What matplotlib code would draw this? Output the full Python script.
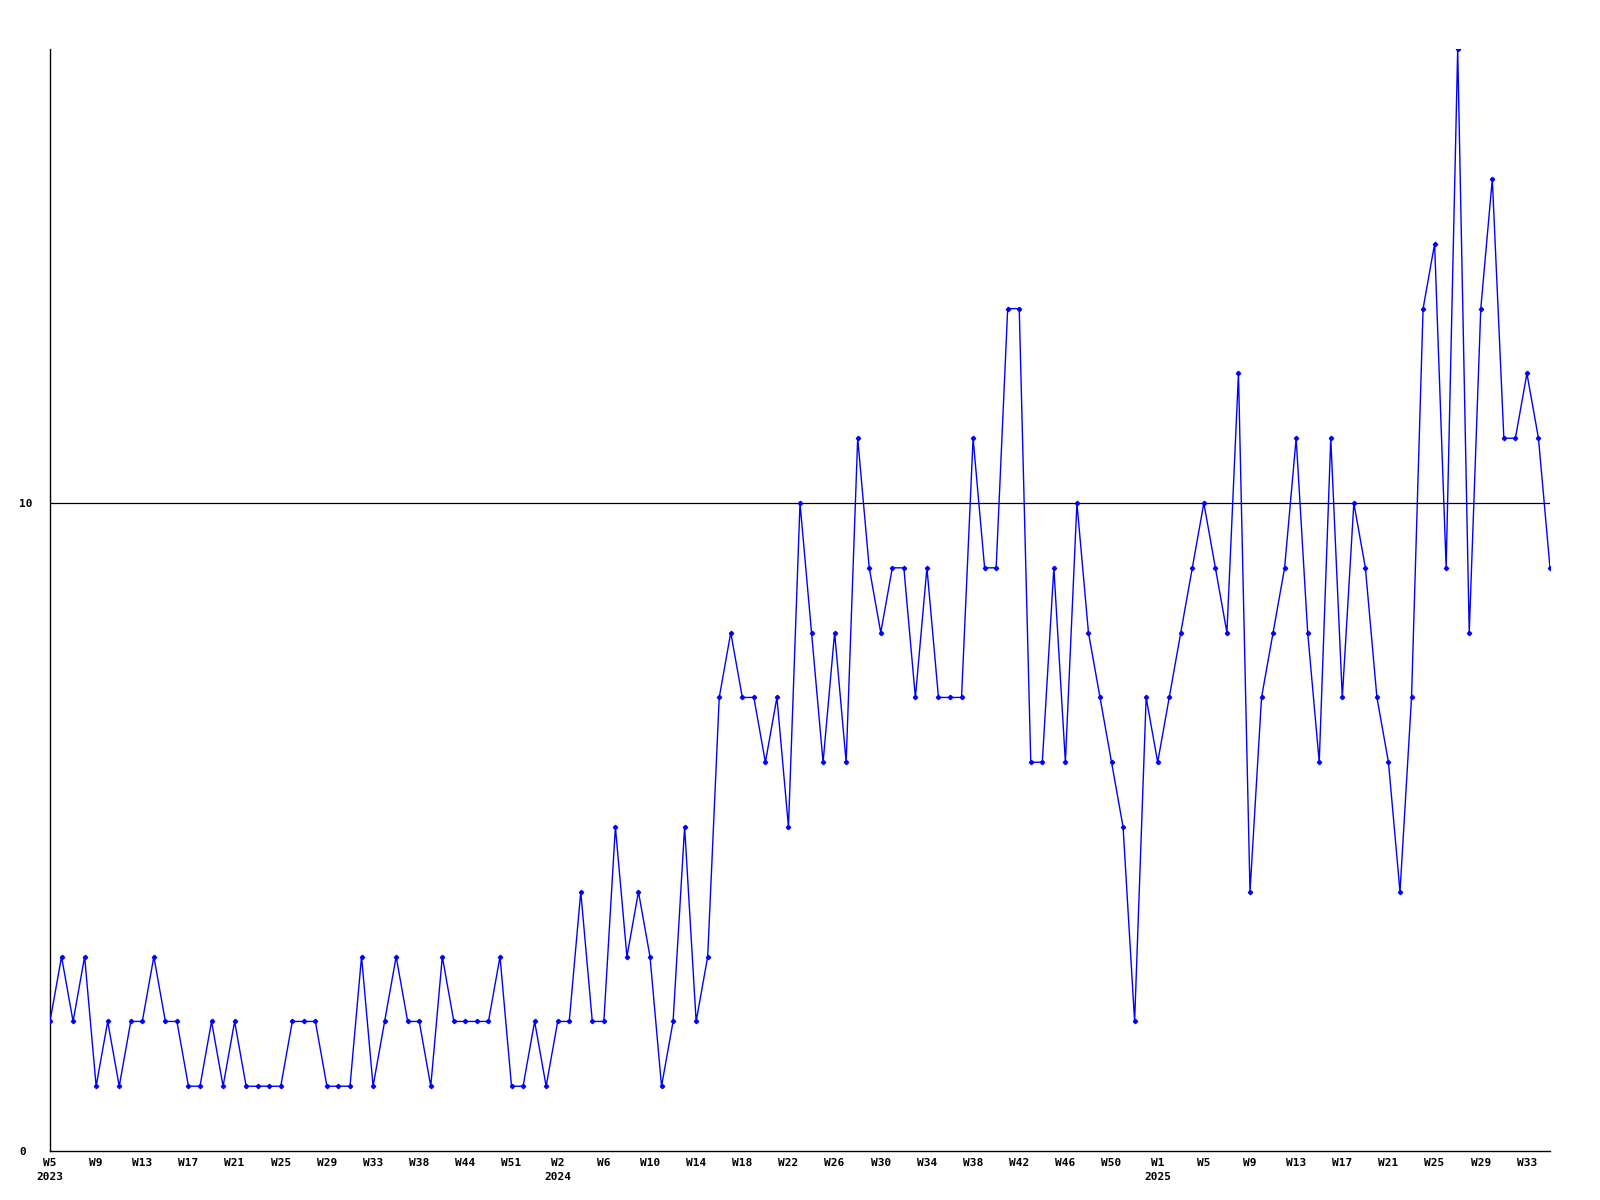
import matplotlib
matplotlib.use("Agg")
import matplotlib.pyplot as plt

values = [2, 3, 2, 3, 1, 2, 1, 2, 2, 3, 2, 2,
          1, 1, 2, 1, 2, 1, 1, 1, 1, 2, 2, 2,
          1, 1, 1, 3, 1, 2, 3, 2, 2, 1, 3, 2,
          2, 2, 2, 3, 1, 1, 2, 1, 2, 2, 4, 2,
          2, 5, 3, 4, 3, 1, 2, 5, 2, 3, 7, 8,
          7, 7, 6, 7, 5, 10, 8, 6, 8, 6, 11, 9,
          8, 9, 9, 7, 9, 7, 7, 7, 11, 9, 9, 13,
          13, 6, 6, 9, 6, 10, 8, 7, 6, 5, 2, 7,
          6, 7, 8, 9, 10, 9, 8, 12, 4, 7, 8, 9,
          11, 8, 6, 11, 7, 10, 9, 7, 6, 4, 7, 13,
          14, 9, 17, 8, 13, 15, 11, 11, 12, 11, 9]

tick_labels = ["W5\n2023", "W9", "W13", "W17", "W21", "W25", "W29", "W33", "W38", "W44", "W51",
               "W2\n2024", "W6", "W10", "W14", "W18", "W22", "W26", "W30", "W34", "W38", "W42",
               "W46", "W50", "W1\n2025", "W5", "W9", "W13", "W17", "W21", "W25", "W29", "W33"]
tick_step = 4
y_labels = ["0", "10"]
y_ticks = [0, 10]

fig = plt.figure(figsize=(16, 12), dpi=100)
ax = fig.add_axes([0.03125, 0.0408, 0.9375, 0.918])

x = list(range(len(values)))
ax.plot(x, values, color="#0000ff", linewidth=1.0, marker="D", markersize=2.2,
        markerfacecolor="#0000ff", markeredgecolor="#0000ff", clip_on=True, zorder=3)
ax.axhline(10, color="black", linewidth=0.9, zorder=2)

ax.set_xlim(0, len(values) - 1)
ax.set_ylim(0, 17)

tick_pos = [i * tick_step for i in range(len(tick_labels))]
ax.set_xticks(tick_pos)
ax.set_xticklabels(tick_labels, fontfamily="DejaVu Sans Mono", fontweight="bold",
                   fontsize=8, linespacing=1.5)
for t in ax.get_xticklabels():
    t.set_verticalalignment("top")
    t.set_multialignment("center")

ax.set_yticks(y_ticks)
ax.set_yticklabels(y_labels, fontfamily="DejaVu Sans Mono", fontweight="bold", fontsize=8)
for t in ax.get_yticklabels():
    t.set_horizontalalignment("left")

ax.tick_params(axis="x", length=0, pad=5)
ax.tick_params(axis="y", length=0, pad=22)

for s in ["top", "right"]:
    ax.spines[s].set_visible(False)
for s in ["left", "bottom"]:
    ax.spines[s].set_color("black")
    ax.spines[s].set_linewidth(1.0)

fig.savefig("out.png", dpi=100, facecolor="white")
